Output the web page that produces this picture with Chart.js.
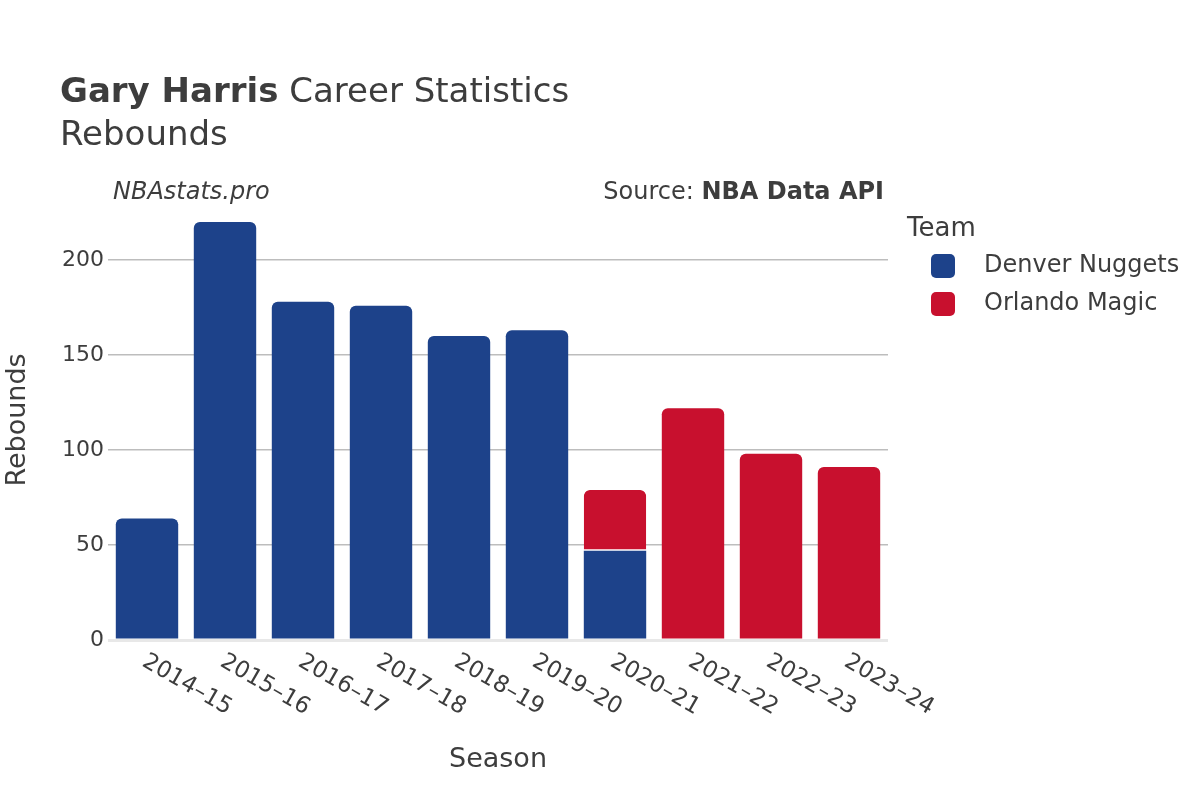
<!DOCTYPE html>
<html>
<head>
<meta charset="utf-8">
<script src="https://cdn.jsdelivr.net/npm/chart.js@4/dist/chart.umd.min.js"></script>
<style>
  html, body { margin: 0; padding: 0; background: #fff; }
  #wrap { width: 1200px; height: 800px; }
</style>
</head>
<body>
<div id="wrap"><canvas id="grafico" width="1200" height="800"></canvas></div>
<script>
// Datos
const temporadas = ['2014–15', '2015–16', '2016–17', '2017–18', '2018–19', '2019–20', '2020–21', '2021–22', '2022–23', '2023–24'];
const reboteDenver = [64, 220, 178, 176, 160, 163, 47, null, null, null];
const reboteOrlando = [null, null, null, null, null, null, 32, 122, 98, 91];
const equipos = ['Denver Nuggets', 'Orlando Magic'];
const coloresEquipo = ['#1D428A', '#C8102E'];
const ticksY = [0, 50, 100, 150, 200];

const FUENTE = '"DejaVu Sans", sans-serif';
const TEXTO = '#3d3d3d';

// Textos, etiquetas rotadas y leyenda
const textosPlugin = {
  id: 'textos',
  afterDraw(chart) {
    const ctx = chart.ctx;
    const xScale = chart.scales.x;
    const area = chart.chartArea;
    ctx.save();
    ctx.fillStyle = TEXTO;

    // Titulo
    ctx.textBaseline = 'alphabetic';
    ctx.textAlign = 'left';
    ctx.font = 'bold 34px ' + FUENTE;
    ctx.fillText('Gary Harris', 60, 102);
    const w = ctx.measureText('Gary Harris').width;
    ctx.font = '34px ' + FUENTE;
    ctx.fillText(' Career Statistics', 60 + w, 102);
    ctx.fillText('Rebounds', 60, 145);

    // Marca y fuente
    ctx.font = 'italic 24px ' + FUENTE;
    ctx.fillText('NBAstats.pro', 113, 199);
    ctx.textAlign = 'right';
    ctx.font = 'bold 24px ' + FUENTE;
    ctx.fillText('NBA Data API', 884, 199);
    const wb = ctx.measureText('NBA Data API').width;
    ctx.font = '24px ' + FUENTE;
    ctx.fillText('Source: ', 884 - wb, 199);

    // Etiquetas del eje X rotadas
    ctx.font = '23px ' + FUENTE;
    ctx.textAlign = 'left';
    ctx.textBaseline = 'middle';
    temporadas.forEach((t, i) => {
      const x = xScale.getPixelForValue(i);
      ctx.save();
      ctx.translate(x - 3, area.bottom + 20);
      ctx.rotate(Math.PI / 6);
      ctx.fillText(t, 0, 0);
      ctx.restore();
    });

    // Titulos de ejes
    ctx.font = '27px ' + FUENTE;
    ctx.textAlign = 'center';
    ctx.fillText('Season', (area.left + area.right) / 2, 760);
    ctx.save();
    ctx.translate(18, (area.top + area.bottom) / 2);
    ctx.rotate(-Math.PI / 2);
    ctx.fillText('Rebounds', 0, 0);
    ctx.restore();

    // Leyenda
    ctx.textAlign = 'left';
    ctx.textBaseline = 'alphabetic';
    ctx.font = '26px ' + FUENTE;
    ctx.fillText('Team', 907, 236);
    ctx.font = '24px ' + FUENTE;
    ctx.textBaseline = 'middle';
    equipos.forEach((eq, i) => {
      const y = 266 + i * 38;
      ctx.fillStyle = coloresEquipo[i];
      ctx.beginPath();
      ctx.roundRect(931, y - 12, 24, 24, 5);
      ctx.fill();
      ctx.fillStyle = TEXTO;
      ctx.fillText(eq, 984, y);
    });
    ctx.restore();
  }
};

const ctx = document.getElementById('grafico').getContext('2d');

const graficoRebotes = new Chart(ctx, {
  type: 'bar',
  data: {
    labels: temporadas,
    datasets: equipos.map((eq, i) => ({
      label: eq,
      data: i === 0 ? reboteDenver : reboteOrlando,
      backgroundColor: coloresEquipo[i],
      borderColor: 'rgba(255,255,255,0.8)',
      // linea blanca solo donde hay segmento apilado debajo
      borderWidth: (c) => (i === 1 && reboteDenver[c.dataIndex]) ? { top: 0, left: 0, right: 0, bottom: 1.5 } : 0,
      borderSkipped: i === 0 ? 'start' : false,
      borderRadius: i === 0 ? 6 : { topLeft: 6, topRight: 6, bottomLeft: 0, bottomRight: 0 },
      barPercentage: 0.8,
      categoryPercentage: 1
    }))
  },
  options: {
    responsive: false,
    animation: false,
    layout: { padding: { left: 0, top: 200, right: 312, bottom: 0 } },
    plugins: {
      legend: { display: false },
      title: { display: false },
      tooltip: { enabled: false }
    },
    scales: {
      x: {
        stacked: true,
        grid: { display: false },
        border: { display: false },
        ticks: { display: false },
        afterFit: (s) => { s.height = 160; s.paddingLeft = 0; s.paddingRight = 0; }
      },
      y: {
        stacked: true,
        min: 0,
        max: 231.6,
        afterBuildTicks: (s) => { s.ticks = ticksY.map(v => ({ value: v })); },
        ticks: {
          color: TEXTO,
          font: { family: FUENTE, size: 22 },
          padding: 4
        },
        grid: {
          drawTicks: false,
          color: (c) => c.tick && c.tick.value === 0 ? '#e8e8e8' : '#bdbdbd',
          lineWidth: (c) => c.tick && c.tick.value === 0 ? 3 : 1.5
        },
        border: { display: false },
        afterFit: (s) => { s.width = 108; s.paddingTop = 0; s.paddingBottom = 0; }
      }
    }
  },
  plugins: [textosPlugin]
});
</script>
</body>
</html>
